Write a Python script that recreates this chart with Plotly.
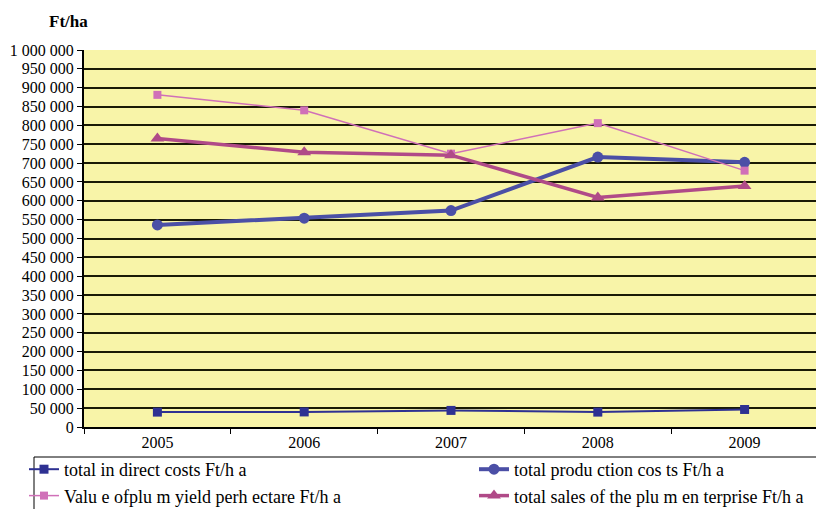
import plotly.graph_objects as go

years = ["2005", "2006", "2007", "2008", "2009"]
indirect_costs = [39500, 40000, 44000, 39500, 46500]
production_costs = [536000, 554000, 574000, 716000, 702000]
plum_yield_value = [881000, 840000, 725000, 806000, 680000]
total_sales = [765000, 729000, 721000, 609000, 639000]
y_ticks = list(range(0, 1000001, 50000))

names = ["total in direct costs Ft/h a", "total produ ction cos ts Ft/h a",
         "Valu e ofplu m yield perh ectare Ft/h a", "total sales of the plu m en terprise Ft/h a"]

SERIF = "Liberation Serif, Times New Roman, Times, serif"

# page body has an 8px default margin; figure is sized so it fits the window
W, H = 816, 501
OFF = 8
plot_l, plot_r, plot_t, plot_b = 84, 818, 50, 427
pw, ph = plot_r - plot_l, plot_b - plot_t

fig = go.Figure()
fig.add_trace(go.Scatter(x=years, y=indirect_costs, name=names[0], mode="lines+markers",
                         line=dict(color="#2E3192", width=2), legend="legend",
                         marker=dict(symbol="square", size=9, color="#2E3192")))
fig.add_trace(go.Scatter(x=years, y=production_costs, name=names[1], mode="lines+markers",
                         line=dict(color="#4B4FA6", width=4), legend="legend2",
                         marker=dict(symbol="circle", size=11, color="#4B4FA6")))
fig.add_trace(go.Scatter(x=years, y=plum_yield_value, name=names[2], mode="lines+markers",
                         line=dict(color="#D070B8", width=1.5), legend="legend",
                         marker=dict(symbol="square", size=8, color="#D070B8")))
fig.add_trace(go.Scatter(x=years, y=total_sales, name=names[3], mode="lines+markers",
                         line=dict(color="#B04A88", width=3.5), legend="legend2",
                         marker=dict(symbol="triangle-up", size=12, color="#B04A88")))

leg_font = dict(family=SERIF, size=18, color="black")
leg_common = dict(orientation="v", xref="container", yref="container",
                  xanchor="left", yanchor="top", bgcolor="rgba(0,0,0,0)",
                  borderwidth=0, font=leg_font, tracegroupgap=0, itemwidth=30)

fig.update_layout(
    width=W, height=H,
    margin=dict(l=plot_l - OFF, r=OFF + W - plot_r, t=plot_t - OFF, b=OFF + H - plot_b,
                autoexpand=False),
    paper_bgcolor="white",
    plot_bgcolor="#F8F4A8",
    separators=", ",
    font=dict(family=SERIF, size=16, color="black"),
    showlegend=True,
    legend=dict(x=(24 - OFF) / W, y=1 - (451 - OFF) / H, **leg_common),
    legend2=dict(x=(474 - OFF) / W, y=1 - (451 - OFF) / H, **leg_common),
    shapes=[dict(type="rect", xref="paper", yref="paper",
                 x0=(34 - plot_l) / pw, x1=(830 - plot_l) / pw,
                 y0=(plot_b - 457) / ph, y1=(plot_b - 520) / ph,
                 line=dict(color="black", width=1), fillcolor="rgba(0,0,0,0)")],
    annotations=[dict(text="<b>Ft/ha</b>", x=(47 - plot_l) / pw, y=(plot_b - 22) / ph,
                      xref="paper", yref="paper", xanchor="left", yanchor="middle",
                      showarrow=False, font=dict(family=SERIF, size=17))],
)

fig.update_xaxes(type="category", range=[-0.5, 4.5], showgrid=False,
                 showline=True, linecolor="black", linewidth=2,
                 ticks="outside", tickson="boundaries", ticklen=5, tickcolor="black",
                 tickfont=dict(family=SERIF, size=16))
fig.update_yaxes(range=[0, 1000000], tickvals=y_ticks, tickformat=",d",
                 showgrid=True, gridcolor="#1A1A05", gridwidth=2,
                 showline=True, linecolor="black", linewidth=2,
                 ticks="outside", ticklen=5, tickcolor="black",
                 zeroline=False,
                 tickfont=dict(family=SERIF, size=16))

fig.write_html("out.html")
